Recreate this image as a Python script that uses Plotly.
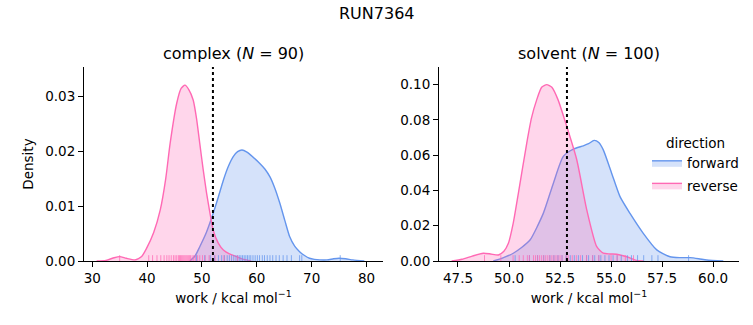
import plotly.graph_objects as go

# ---------------- data ----------------
suptitle = "RUN7364"
panel_titles = ["complex (<i>N</i> = 90)", "solvent (<i>N</i> = 100)"]
directions = ["forward", "reverse"]

# KDE curves, complex
cx_fwd_x = [47.8, 48.8, 49.6, 50.8, 52.05, 53.0, 53.9, 54.8, 55.7, 56.5, 57.3, 58.2, 59.3, 60.5, 61.5,
            62.4, 63.3, 64.2, 65.1, 66.0, 66.9, 67.8, 68.7, 69.6, 70.5, 71.5, 72.8, 74.0, 75.0, 76.2, 77.5, 79.6]
cx_fwd_y = [0.0, 0.001, 0.0026, 0.0052, 0.0087, 0.0117, 0.0147, 0.0172, 0.019, 0.0199, 0.0202, 0.0198,
            0.0189, 0.0178, 0.0167, 0.0153, 0.0132, 0.0105, 0.0074, 0.0044, 0.0027, 0.0017, 0.001, 0.0005,
            0.0003, 0.0002, 0.0002, 0.0004, 0.0005, 0.0004, 0.0002, 0.0]
cx_rev_x = [30.8, 32.5, 34.0, 35.0, 36.2, 37.8, 39.0, 39.9, 41.2, 42.4, 43.4, 44.2, 45.4, 46.2, 46.9,
            47.6, 48.4, 49.0, 49.6, 50.2, 50.85, 51.5, 52.05, 53.0, 53.9, 55.0, 56.3, 57.3, 58.1, 59.0]
cx_rev_y = [0.0, 0.0001, 0.0006, 0.0008, 0.0005, 0.0002, 0.0008, 0.0023, 0.0052, 0.0093, 0.015, 0.0214,
            0.0287, 0.0314, 0.032, 0.0312, 0.0293, 0.026, 0.0214, 0.0168, 0.0123, 0.0085, 0.0056, 0.0032,
            0.002, 0.0013, 0.0008, 0.0004, 0.0002, 0.0]

# KDE curves, solvent
sv_fwd_x = [49.23, 49.7, 50.21, 50.6, 51.03, 51.68, 52.17, 52.66, 53.15, 53.64, 53.9, 54.17, 54.4, 54.62,
            55.03, 55.44, 55.93, 56.58, 57.24, 57.89, 58.4, 58.87, 59.3, 59.69, 60.5]
sv_fwd_y = [0.0, 0.0018, 0.0044, 0.0075, 0.0119, 0.027, 0.044, 0.0593, 0.0634, 0.0653, 0.0665, 0.0684,
            0.0672, 0.063, 0.0498, 0.0365, 0.027, 0.0157, 0.0063, 0.0024, 0.0019, 0.0019, 0.0013, 0.0006, 0.0]
sv_rev_x = [47.19, 47.7, 48.2, 48.74, 49.1, 49.48, 49.75, 49.97, 50.2, 50.46, 50.87, 51.1, 51.36, 51.6,
            51.85, 52.1, 52.4, 52.83, 53.32, 53.81, 54.3, 54.62, 54.95, 55.28, 55.77, 56.26, 56.6]
sv_rev_y = [0.0, 0.001, 0.0028, 0.0044, 0.004, 0.0034, 0.0055, 0.010, 0.021, 0.0385, 0.0669, 0.081,
            0.0915, 0.0985, 0.100, 0.0985, 0.0915, 0.0763, 0.0574, 0.029, 0.0081, 0.0044, 0.004, 0.0038,
            0.0024, 0.0003, 0.0]

# rug samples (estimated)
cx_fwd_rug = [49.0, 50.5, 51.5, 52.3, 53.0, 53.6, 54.1, 54.6, 55.0, 55.4, 55.8, 56.2, 56.5, 56.8, 57.1,
              57.4, 57.7, 58.0, 58.3, 58.6, 58.9, 59.3, 59.7, 60.1, 60.5, 61.0, 61.4, 61.9, 62.4, 62.9,
              63.5, 64.1, 64.8, 65.5, 66.3, 67.8, 68.2, 75.2]
cx_rev_rug = [35.0, 40.3, 41.0, 41.8, 42.5, 43.1, 43.6, 44.0, 44.4, 44.8, 45.1, 45.4, 45.7, 45.9, 46.1,
              46.3, 46.5, 46.7, 46.9, 47.1, 47.3, 47.5, 47.7, 47.9, 48.2, 48.5, 48.8, 49.2, 49.6, 50.1,
              50.6, 51.3, 52.4, 54.0, 56.5]
sv_fwd_rug = [50.3, 51.0, 51.4, 51.7, 52.0, 52.2, 52.4, 52.6, 52.8, 53.0, 53.2, 53.4, 53.6, 53.8, 53.9,
              54.1, 54.2, 54.4, 54.5, 54.7, 54.9, 55.1, 55.3, 55.5, 55.8, 56.0, 56.3, 56.6, 57.0, 57.3, 58.8]
sv_rev_rug = [48.8, 49.6, 50.2, 50.5, 50.7, 50.9, 51.0, 51.2, 51.3, 51.4, 51.5, 51.6, 51.7, 51.8, 51.9,
              52.0, 52.1, 52.2, 52.3, 52.4, 52.5, 52.6, 52.8, 52.9, 53.1, 53.3, 53.5, 53.8, 54.1, 54.4,
              55.0, 55.3, 55.7, 56.1]

# free-energy estimate lines
dg_values = [52.0, 52.84]

x_ranges = [[28.5, 83.0], [46.57, 61.27]]
y_ranges = [[0, 0.0353], [0, 0.110]]
x_ticks = [[30, 40, 50, 60, 70, 80], [47.5, 50.0, 52.5, 55.0, 57.5, 60.0]]
y_ticks = [[0.0, 0.01, 0.02, 0.03], [0.0, 0.02, 0.04, 0.06, 0.08, 0.10]]

# ---------------- styling ----------------
W, H = 753, 325
FONT = "DejaVu Sans"
TICK_SIZE = 13.5
line_colors = {"forward": "#6495ED", "reverse": "#FF69B4"}
fill_colors = {"forward": "rgba(100,149,237,0.27)", "reverse": "rgba(255,105,180,0.27)"}
rug_colors = {"forward": "rgba(100,149,237,0.75)", "reverse": "rgba(255,105,180,0.75)"}

x_dom = [[84 / W, 383 / W], [439 / W, 739 / W]]
y_dom = [(H - 261) / H, (H - 67) / H]

fig = go.Figure()

panels = [
    {"forward": (cx_fwd_x, cx_fwd_y, cx_fwd_rug), "reverse": (cx_rev_x, cx_rev_y, cx_rev_rug)},
    {"forward": (sv_fwd_x, sv_fwd_y, sv_fwd_rug), "reverse": (sv_rev_x, sv_rev_y, sv_rev_rug)},
]

shapes = []
for i, panel in enumerate(panels):
    xa = "x" if i == 0 else "x2"
    ya = "y" if i == 0 else "y2"
    for d in directions:
        xs, ys, rug = panel[d]
        fig.add_trace(go.Scatter(
            x=xs, y=ys, mode="lines", fill="tozeroy",
            line=dict(color=line_colors[d], width=1.4, shape="spline", smoothing=0.6),
            fillcolor=fill_colors[d], name=d, legendgroup=d, showlegend=False,
            xaxis=xa, yaxis=ya, hoverinfo="skip",
        ))
        for r in rug:
            shapes.append(dict(type="line", xref=xa, yref=f"{ya} domain", x0=r, x1=r, y0=0, y1=0.03,
                               line=dict(color=rug_colors[d], width=1), layer="above"))
    shapes.append(dict(type="line", xref=xa, yref=f"{ya} domain", x0=dg_values[i], x1=dg_values[i],
                       y0=0, y1=1, line=dict(color="black", width=2, dash="dot"), layer="above"))

# legend entries (empty traces so that the legend shows a boxed swatch)
for d in directions:
    fig.add_trace(go.Scatter(
        x=[None], y=[None], mode="lines", fill="toself", name=d, legendgroup=d,
        line=dict(color=line_colors[d], width=1.4), fillcolor=fill_colors[d],
        xaxis="x2", yaxis="y2", hoverinfo="skip", showlegend=True,
    ))

axis_common = dict(showline=True, linecolor="black", linewidth=1, ticks="outside", ticklen=5,
                   tickwidth=1, tickcolor="black", showgrid=False, zeroline=False, automargin=False,
                   tickfont=dict(family=FONT, size=TICK_SIZE, color="black"))

layout = dict(
    width=W, height=H, margin=dict(l=0, r=0, t=0, b=0, autoexpand=False),
    paper_bgcolor="white", plot_bgcolor="white",
    font=dict(family=FONT, size=TICK_SIZE, color="black"),
    shapes=shapes,
    legend=dict(title=dict(text="direction", side="top center", font=dict(size=TICK_SIZE)),
                x=647 / W, y=1 - 130 / H, xanchor="left", yanchor="top",
                bgcolor="rgba(255,255,255,0)", font=dict(size=TICK_SIZE), itemwidth=30,
                tracegroupgap=2),
)
for i in range(2):
    sfx = "" if i == 0 else "2"
    xa = dict(axis_common, domain=x_dom[i], range=x_ranges[i], tickvals=x_ticks[i],
              ticktext=[(f"{v:.0f}" if i == 0 else f"{v:.1f}") for v in x_ticks[i]],
              anchor="y" + sfx,
              title=dict(text="work / kcal mol<sup>\u22121</sup>", font=dict(size=TICK_SIZE), standoff=8))
    ya = dict(axis_common, domain=y_dom, range=y_ranges[i], tickvals=y_ticks[i],
              ticktext=[f"{v:.2f}" for v in y_ticks[i]], anchor="x" + sfx)
    if i == 0:
        ya["title"] = dict(text="Density", font=dict(size=TICK_SIZE), standoff=8)
    layout["xaxis" + sfx] = xa
    layout["yaxis" + sfx] = ya

annotations = [dict(text=suptitle, x=0.5, y=1 - 13 / H, xref="paper", yref="paper",
                    showarrow=False, font=dict(size=16), xanchor="center", yanchor="middle")]
for i in range(2):
    annotations.append(dict(text=panel_titles[i], x=(x_dom[i][0] + x_dom[i][1]) / 2, y=1 - 54 / H,
                            xref="paper", yref="paper", showarrow=False, font=dict(size=16),
                            xanchor="center", yanchor="middle"))
layout["annotations"] = annotations

fig.update_layout(**layout)
fig.write_html("out.html")
